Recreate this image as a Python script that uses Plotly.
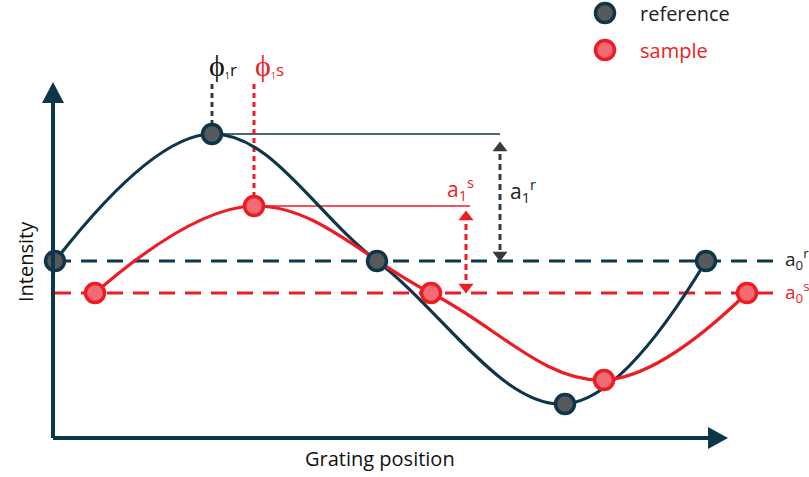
import plotly.graph_objects as go

# Grating positions and intensities of the sampled points
ref_x = [55, 212, 377, 565, 706]
ref_y = [216, 343, 216, 73, 216]
smp_x = [95, 254, 431, 604, 747]
smp_y = [184, 271, 184, 97, 184]

a0_ref = 216
a0_smp = 184
a1_ref_top = 343
a1_smp_top = 271

NAVY = "#0d3649"
RED = "#ed1c24"
REF_FILL = "#58595b"
SMP_FILL = "#f26a74"
FONT = "Open Sans"

fig = go.Figure()

# Mean levels (a0)
fig.add_trace(go.Scatter(x=[55, 780], y=[a0_ref, a0_ref], mode="lines",
                         line=dict(color=NAVY, width=3, dash="16px,10px"), hoverinfo="skip"))
fig.add_trace(go.Scatter(x=[55, 780], y=[a0_smp, a0_smp], mode="lines",
                         line=dict(color=RED, width=3, dash="16px,10px"), hoverinfo="skip"))

# Amplitude guides (a1)
fig.add_trace(go.Scatter(x=[ref_x[1], 500], y=[a1_ref_top, a1_ref_top], mode="lines",
                         line=dict(color=NAVY, width=1.3), hoverinfo="skip"))
fig.add_trace(go.Scatter(x=[smp_x[1], 470], y=[a1_smp_top, a1_smp_top], mode="lines",
                         line=dict(color=RED, width=1.3), hoverinfo="skip"))
fig.add_trace(go.Scatter(x=[500, 500], y=[a1_ref_top - 10, a0_ref + 8], mode="lines",
                         line=dict(color="#3a3a3a", width=3, dash="6px,4px"), hoverinfo="skip"))
fig.add_trace(go.Scatter(x=[500, 500], y=[a1_ref_top - 14, a0_ref + 6], mode="markers",
                         marker=dict(symbol=["triangle-up", "triangle-down"], size=13,
                                     color="#3a3a3a"), hoverinfo="skip"))
fig.add_trace(go.Scatter(x=[466, 466], y=[a1_smp_top - 8, a0_smp + 8], mode="lines",
                         line=dict(color=RED, width=3, dash="6px,4px"), hoverinfo="skip"))
fig.add_trace(go.Scatter(x=[466, 466], y=[a1_smp_top - 11, a0_smp + 6], mode="markers",
                         marker=dict(symbol=["triangle-up", "triangle-down"], size=13,
                                     color=RED), hoverinfo="skip"))

# Phase guides (phi1)
fig.add_trace(go.Scatter(x=[ref_x[1], ref_x[1]], y=[393, a1_ref_top + 8], mode="lines",
                         line=dict(color="#3a3a3a", width=3, dash="5px,4px"), hoverinfo="skip"))
fig.add_trace(go.Scatter(x=[smp_x[1], smp_x[1]], y=[393, a1_smp_top + 8], mode="lines",
                         line=dict(color=RED, width=3, dash="5px,4px"), hoverinfo="skip"))

# Curves with markers
fig.add_trace(go.Scatter(x=ref_x, y=ref_y, mode="lines",
                         line=dict(color=NAVY, width=3.2, shape="spline", smoothing=1.1),
                         hoverinfo="skip"))
fig.add_trace(go.Scatter(x=smp_x, y=smp_y, mode="lines",
                         line=dict(color=RED, width=3.2, shape="spline", smoothing=1.1),
                         hoverinfo="skip"))
fig.add_trace(go.Scatter(x=ref_x, y=ref_y, mode="markers",
                         marker=dict(size=19, color=REF_FILL, line=dict(color=NAVY, width=3.5)),
                         hoverinfo="skip"))
fig.add_trace(go.Scatter(x=smp_x, y=smp_y, mode="markers",
                         marker=dict(size=19, color=SMP_FILL, line=dict(color=RED, width=3.5)),
                         hoverinfo="skip"))

# Legend
fig.add_trace(go.Scatter(x=[605], y=[464], mode="markers",
                         marker=dict(size=19, color=REF_FILL, line=dict(color=NAVY, width=3.5)),
                         hoverinfo="skip"))
fig.add_trace(go.Scatter(x=[605], y=[427], mode="markers",
                         marker=dict(size=19, color=SMP_FILL, line=dict(color=RED, width=3.5)),
                         hoverinfo="skip"))

# Axes with arrowheads
shapes = [
    dict(type="line", x0=53, y0=39, x1=53, y1=378, line=dict(color=NAVY, width=4)),
    dict(type="line", x0=53, y0=39, x1=712, y1=39, line=dict(color=NAVY, width=4)),
    dict(type="path", path="M 53 395 L 42 374 L 64 374 Z", fillcolor=NAVY, line=dict(width=0)),
    dict(type="path", path="M 728 39 L 708 50 L 708 28 Z", fillcolor=NAVY, line=dict(width=0)),
]

annotations = [
    dict(x=25, y=215, text="Intensity", textangle=-90, font=dict(size=20, color="#111")),
    dict(x=380, y=19, text="Grating position", font=dict(size=20, color="#111")),
    dict(x=638, y=464, text="reference", xanchor="left", font=dict(size=20, color="#222")),
    dict(x=638, y=427, text="sample", xanchor="left", font=dict(size=20, color=RED)),
    dict(x=207, y=413,
         text="ϕ<span style='font-size:13px'><sub>1</sub></span><span style='font-size:17px'>r</span>",
         xanchor="left", font=dict(size=30, color="#111")),
    dict(x=253, y=413,
         text="ϕ<span style='font-size:13px'><sub>1</sub></span><span style='font-size:17px'>s</span>",
         xanchor="left", font=dict(size=30, color=RED)),
    dict(x=508, y=287, text="a<sub>1</sub><sup>r</sup>", xanchor="left",
         font=dict(size=21, color="#222")),
    dict(x=445, y=289, text="a<sub>1</sub><sup>s</sup>", xanchor="left",
         font=dict(size=21, color=RED)),
    dict(x=783, y=218, text="a<sub>0</sub><sup>r</sup>", xanchor="left",
         font=dict(size=19, color="#222")),
    dict(x=783, y=185, text="a<sub>0</sub><sup>s</sup>", xanchor="left",
         font=dict(size=19, color=RED)),
]
for a in annotations:
    a.update(xref="x", yref="y", showarrow=False)

fig.update_layout(
    width=809, height=477,
    margin=dict(l=0, r=0, t=0, b=0),
    paper_bgcolor="white", plot_bgcolor="white",
    showlegend=False,
    font=dict(family=FONT),
    xaxis=dict(range=[0, 809], visible=False, fixedrange=True),
    yaxis=dict(range=[0, 477], visible=False, fixedrange=True),
    shapes=shapes,
    annotations=annotations,
)

fig.write_html("out.html")
